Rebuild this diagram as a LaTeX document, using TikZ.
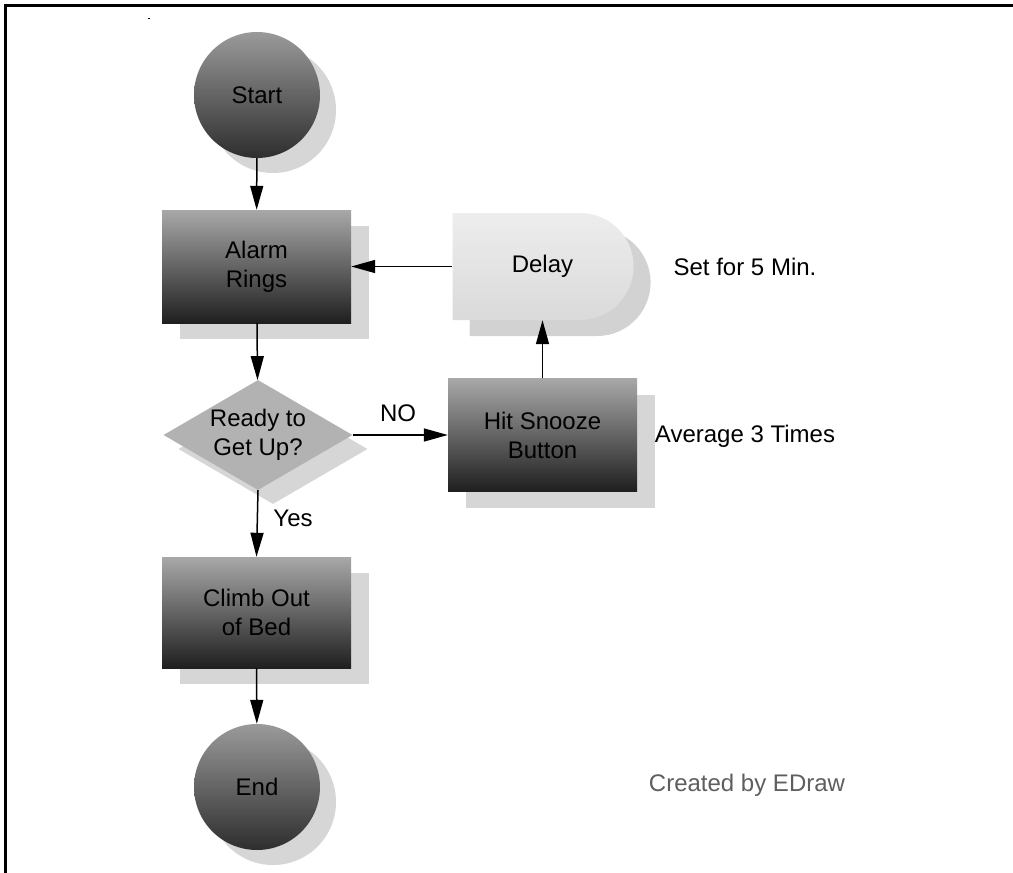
\documentclass[tikz,border=0pt]{standalone}
\usepackage{fontspec}
\setmainfont{Liberation Sans}
\usetikzlibrary{arrows.meta,shapes.geometric,shapes.misc,shadows}
\definecolor{shad}{HTML}{D6D6D6}
\definecolor{circtop}{HTML}{9A9A9A}
\definecolor{circbot}{HTML}{2E2E2E}
\definecolor{recttop}{HTML}{A8A8A8}
\definecolor{rectbot}{HTML}{1F1F1F}
\definecolor{delaytop}{HTML}{EDEDED}
\definecolor{delaybot}{HTML}{DADADA}
\definecolor{delayshad}{HTML}{D2D2D2}
\definecolor{decfill}{HTML}{B2B2B2}
\definecolor{decshad}{HTML}{D6D6D6}
\definecolor{credit}{HTML}{5E5E5E}
\begin{document}
\begin{tikzpicture}[x=1pt,y=-1pt,
  every node/.style={font=\fontsize{24}{29}\selectfont, align=center, text=black, inner sep=0pt},
  conn/.style={line width=1.5pt, draw=black, -{Triangle[length=24pt,width=13pt]}},
  termnode/.style={circle, minimum size=126pt, top color=circtop, bottom color=circbot,
    drop shadow={shadow xshift=16pt, shadow yshift=-15pt, fill=shad, opacity=1}},
  procnode/.style={rectangle, minimum width=189pt, minimum height=113pt, top color=recttop, bottom color=rectbot,
    drop shadow={shadow xshift=18pt, shadow yshift=-16pt, fill=shad, opacity=1}},
  delaynode/.style={rounded rectangle, rounded rectangle west arc=none, minimum width=181pt, minimum height=107pt,
    top color=delaytop, bottom color=delaybot,
    drop shadow={shadow xshift=17pt, shadow yshift=-16pt, fill=delayshad, opacity=1}},
  decnode/.style={diamond, minimum width=189pt, minimum height=110pt, fill=decfill,
    drop shadow={shadow xshift=15pt, shadow yshift=-14pt, fill=decshad, opacity=1}},
  note/.style={text=black},
  frameline/.style={line width=3pt, draw=black}
]
\useasboundingbox (0,0) rectangle (1013,873);
\fill[white] (0,0) rectangle (1013,873);
\draw[frameline] (5.5,873) -- (5.5,5.5) -- (1013,5.5);
\draw[line width=1pt] (147.5,18.5) -- (150,18.5);

\node[termnode] (start) at (257,95) {Start};
\node[procnode] (alarm) at (256.5,266.5) {Alarm\\Rings};
\node[delaynode] (delay) at (542.5,266.5) {Delay};
\node[decnode] (dec) at (258,435) {};
\node (dectext) at (258,435) {Ready to\\Get Up?};
\node[procnode] (snooze) at (542.5,435) {Hit Snooze\\Button};
\node[procnode, minimum height=111pt] (climb) at (256.5,612.5) {Climb Out\\of Bed};
\node[termnode] (end) at (257,787) {End};

\node[note] (setfor) at (745,267) {Set for 5 Min.};
\node[note] (avg) at (745,436) {Average 3 Times};
\node[note] (nolbl) at (398,413) {NO};
\node[note] (yeslbl) at (293,518) {Yes};
\node[text=credit] (credit) at (747,785) {Created by EDraw};

\draw[conn] (start) -- (alarm);
\draw[conn] (alarm) -- (dec);
\draw[conn] (dec.east) -- (snooze.west);
\draw[conn] (snooze) -- (delay.south);
\draw[conn] (delay.west) -- (alarm.east);
\draw[conn] (dec.south) -- (climb.north);
\draw[conn] (climb) -- (end);
\end{tikzpicture}
\end{document}
